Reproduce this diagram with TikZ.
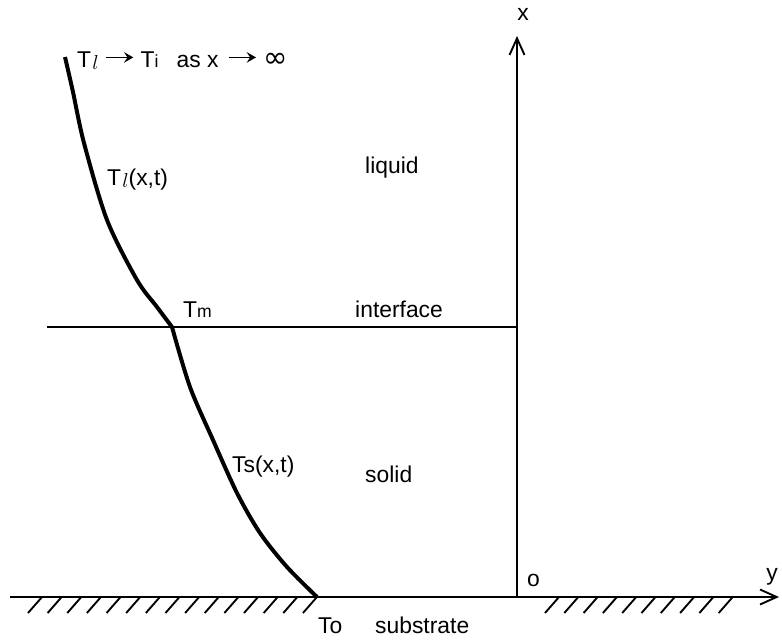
\documentclass[tikz,border=0pt]{standalone}
\usepackage{fontspec}
\setmainfont{Liberation Sans}
\newfontfamily\symfont{DejaVu Sans}
\usetikzlibrary{arrows.meta}

\newcommand{\lowsz}{\fontsize{15}{18}\selectfont}
\newcommand{\sbl}{\kern1pt\raisebox{-0.12em}{\fontsize{18}{18}\selectfont$l$}}
\newcommand{\rto}{\tikz[baseline=0pt]\draw[line width=1.5pt,-{Stealth[length=8pt,width=9pt,inset=3pt]}] (0,0.42em) -- (1.2em,0.42em);}

\begin{document}
\begin{tikzpicture}[x=0.03cm,y=-0.03cm,
    font=\fontsize{19.5}{23}\selectfont,
    thinline/.style={line width=1.6pt},
    axisline/.style={thinline,-{Straight Barb[length=0.5cm,width=0.45cm,line width=1.6pt]}},
    curve/.style={line width=3.4pt},
    lbl/.style={anchor=base west,inner sep=0pt}]
\useasboundingbox (0,0) rectangle (782,640);
% axes
\coordinate (orig) at (517,597);
\coordinate (xend) at (517,36);
\coordinate (ywest) at (10,597);
\coordinate (yend) at (779,597);
\draw[axisline] (orig) -- (xend);
\draw[axisline] (ywest) -- (yend);
% interface
\coordinate (ifl) at (47,327);
\coordinate (ifr) at (517,327);
\draw[thinline] (ifl) -- (ifr);
% substrate hatching
\foreach \i in {0,...,14}
  \draw[thinline] (28+19.64*\i,613) -- ++(14,-16);
\foreach \i in {0,...,9}
  \draw[thinline] (545+19.3*\i,613) -- ++(14,-16);
% temperature profile
\coordinate (tinf) at (65,57);
\coordinate (tm) at (172,327);
\coordinate (to) at (317,597);
\draw[curve] plot[smooth] coordinates {(tinf) (73,92) (84,143) (107,220) (137,280) (157,307) (tm)}
  -- plot[smooth] coordinates {(tm) (190,387) (213,440) (237,493) (260,533) (287,567) (to)};
% labels
\node[lbl] (limit) at (77,67) {T\sbl\ \rto\ T{\lowsz i}\hspace{0.8em}as x\hspace{0.4em}\rto\ {\symfont\fontsize{25}{25}\selectfont ∞}};
\node[lbl] (tlx) at (107,185) {T\sbl(x,t)};
\node[lbl] (tmlab) at (183,317) {T{\lowsz m}};
\node[lbl] (iface) at (355,317) {interface};
\node[lbl] (liq) at (365,173) {liquid};
\node[lbl] (tsx) at (232,472) {Ts(x,t)};
\node[lbl] (sol) at (365,482) {solid};
\node[lbl] (tolab) at (318,633) {To};
\node[lbl] (sub) at (375,633) {substrate};
\node[lbl] (olab) at (527,586) {o};
\node[anchor=base,inner sep=0pt] (xlab) at (523,20) {x};
\node[anchor=base,inner sep=0pt] (ylab) at (772,580) {y};
\end{tikzpicture}
\end{document}
